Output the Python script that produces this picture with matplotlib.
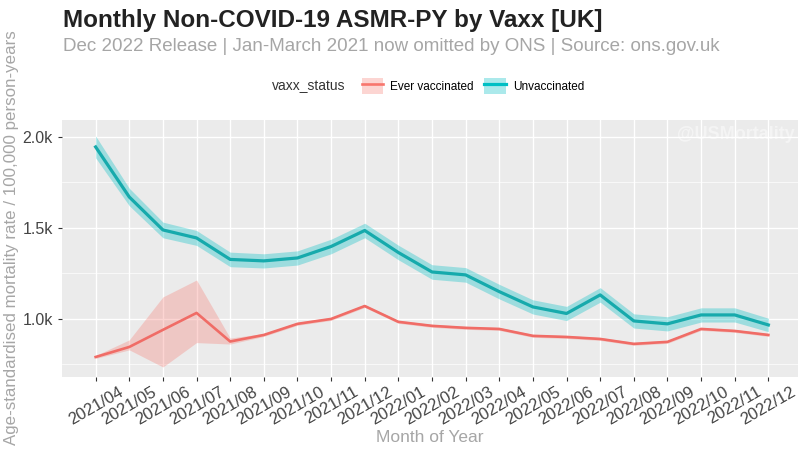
import matplotlib.pyplot as plt
from matplotlib.patches import Patch
from matplotlib.lines import Line2D

plt.rcParams['font.family'] = ['Liberation Sans', 'DejaVu Sans']

# Monthly age-standardised mortality rates (non-COVID-19) per 100,000 person-years
months = ['2021/04', '2021/05', '2021/06', '2021/07', '2021/08', '2021/09', '2021/10',
          '2021/11', '2021/12', '2022/01', '2022/02', '2022/03', '2022/04', '2022/05',
          '2022/06', '2022/07', '2022/08', '2022/09', '2022/10', '2022/11', '2022/12']

unvax_rate = [1945, 1670, 1489, 1445, 1327, 1319, 1335, 1398, 1486, 1365, 1258, 1242,
              1150, 1066, 1030, 1132, 989, 973, 1022, 1022, 967]
unvax_lower = [1885, 1622, 1446, 1404, 1287, 1280, 1296, 1358, 1446, 1325, 1218, 1202,
               1110, 1027, 991, 1092, 950, 934, 983, 983, 930]
unvax_upper = [2005, 1718, 1532, 1486, 1367, 1358, 1374, 1438, 1526, 1405, 1298, 1282,
               1190, 1105, 1069, 1172, 1028, 1012, 1061, 1061, 1004]

vax_rate = [791, 846, 940, 1033, 876, 912, 973, 1000, 1071, 984, 962, 951, 945, 907,
            901, 890, 863, 874, 945, 934, 912]
vax_lower = [783, 830, 736, 870, 862, 904, 965, 992, 1063, 976, 954, 943, 937, 899,
             893, 882, 855, 866, 937, 926, 904]
vax_upper = [799, 885, 1121, 1214, 895, 920, 981, 1008, 1079, 992, 970, 959, 953, 915,
             909, 898, 871, 882, 953, 942, 920]

series_names = ['Ever vaccinated', 'Unvaccinated']
red = '#F8766D'
teal = '#00BFC4'

x = list(range(len(months)))

fig = plt.figure(figsize=(7.98, 4.5), dpi=100)
ax = fig.add_axes([62 / 798, 73 / 450, 740 / 798, 257 / 450])
ax.set_facecolor('#EBEBEB')
for s in ax.spines.values():
    s.set_visible(False)

ax.fill_between(x, vax_lower, vax_upper, color=red, alpha=0.3, lw=0)
ax.fill_between(x, unvax_lower, unvax_upper, color=teal, alpha=0.33, lw=0)
ax.plot(x, vax_rate, color='#F06C66', lw=1.9, solid_joinstyle='round')
ax.plot(x, unvax_rate, color='#16AAAC', lw=2.3, solid_joinstyle='round')

ax.set_xlim(-1, 21)
ax.set_ylim(681, 2093)
ax.set_xticks(x)
ax.set_xticklabels(months, rotation=30, ha='center', va='top', fontsize=12,
                   color='#333333')
ax.set_yticks([1000, 1500, 2000])
ax.set_yticklabels(['1.0k', '1.5k', '2.0k'])
ax.set_yticks([750, 1250, 1750], minor=True)
ax.tick_params(axis='both', which='major', length=3, width=0.8, color='#333333',
               labelcolor='#444444', labelsize=11.5)
ax.tick_params(axis='x', pad=2, labelsize=12)
ax.tick_params(axis='y', which='minor', length=0)
ax.grid(which='major', color='white', lw=1.0)
ax.grid(which='minor', axis='y', color='white', lw=0.5)
ax.set_axisbelow(True)

# watermark
ax.text(0.99, 0.975, '@USMortality', transform=ax.transAxes, ha='right', va='top',
        fontsize=13, weight='bold', color='white', alpha=0.45)

fig.text(63 / 798, 1 - 9 / 450, 'Monthly Non-COVID-19 ASMR-PY by Vaxx [UK]',
         ha='left', va='top', fontsize=17.5, weight='bold', color='#222222')
fig.text(63 / 798, 1 - 38 / 450,
         'Dec 2022 Release | Jan-March 2021 now omitted by ONS | Source: ons.gov.uk',
         ha='left', va='top', fontsize=13.5, color='#A6A6A6')

# legend
fig.text(272 / 798, 1 - 86 / 450, 'vaxx_status', ha='left', va='center',
         fontsize=10, color='#333333')
handles = [(Patch(facecolor=red, alpha=0.3), Line2D([], [], color=red, lw=1.9)),
           (Patch(facecolor=teal, alpha=0.33), Line2D([], [], color=teal, lw=2.3))]
fig.legend(handles, series_names, loc='center left', ncol=2,
           bbox_to_anchor=(356 / 798, 1 - 86 / 450), frameon=False, fontsize=8.5,
           handlelength=1.8, handleheight=1.6, handletextpad=0.6, columnspacing=0.9,
           borderpad=0)

fig.text(430 / 798, 1 - 437 / 450, 'Month of Year', ha='center', va='center',
         fontsize=12.5, color='#A6A6A6')
fig.text(12 / 798, 1 - 238 / 450, 'Age-standardised mortality rate / 100,000 person-years',
         ha='center', va='center', rotation=90, fontsize=12.2, color='#A6A6A6')

fig.savefig('out.png', dpi=100)
